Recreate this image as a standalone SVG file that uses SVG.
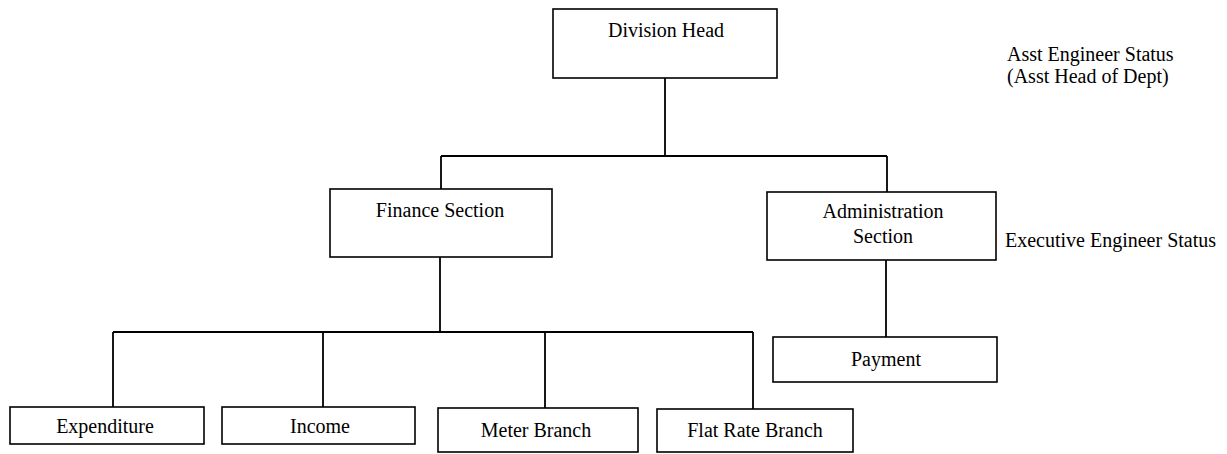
<svg xmlns="http://www.w3.org/2000/svg" width="1227" height="454" viewBox="0 0 1227 454">
<style>
.box{fill:#fff;stroke:#000;stroke-width:1.6}
.t{font-family:"Liberation Serif","Times New Roman",serif;font-size:20px;fill:#000}
.c{text-anchor:middle}
.ln{fill:none;stroke:#000;stroke-width:1.8}
</style>
<rect width="1227" height="454" fill="#fff"/>
<g id="connectors">
<path class="ln" d="M665,78 V156 M441,156 H887 M441,156 V189 M887,156 V192"/>
<path class="ln" d="M440,257 V332 M113,332 H753 M113,332 V407 M323,332 V407 M545,332 V408 M753,332 V409"/>
<path class="ln" d="M886,260 V337"/>
</g>
<g id="division-head">
<rect class="box" x="553" y="9" width="224" height="69"/>
<text class="t c" x="666" y="37">Division Head</text>
</g>
<g id="asst-note">
<text class="t" x="1007" y="61">Asst Engineer Status</text>
<text class="t" x="1007" y="83">(Asst Head of Dept)</text>
</g>
<g id="finance-section">
<rect class="box" x="330" y="189" width="222" height="68"/>
<text class="t c" x="440" y="217">Finance Section</text>
</g>
<g id="administration-section">
<rect class="box" x="767" y="192" width="229" height="68"/>
<text class="t c" x="883" y="218">Administration</text>
<text class="t c" x="883" y="243">Section</text>
</g>
<g id="exec-note">
<text class="t" x="1005" y="247">Executive Engineer Status</text>
</g>
<g id="payment">
<rect class="box" x="773" y="337" width="224" height="45"/>
<text class="t c" x="886" y="366">Payment</text>
</g>
<g id="expenditure">
<rect class="box" x="10" y="407" width="194" height="37"/>
<text class="t c" x="105" y="433">Expenditure</text>
</g>
<g id="income">
<rect class="box" x="222" y="407" width="193" height="37"/>
<text class="t c" x="320" y="433">Income</text>
</g>
<g id="meter-branch">
<rect class="box" x="438" y="408" width="200" height="44"/>
<text class="t c" x="536" y="437">Meter Branch</text>
</g>
<g id="flat-rate-branch">
<rect class="box" x="657" y="409" width="196" height="43"/>
<text class="t c" x="755" y="437">Flat Rate Branch</text>
</g>
</svg>
